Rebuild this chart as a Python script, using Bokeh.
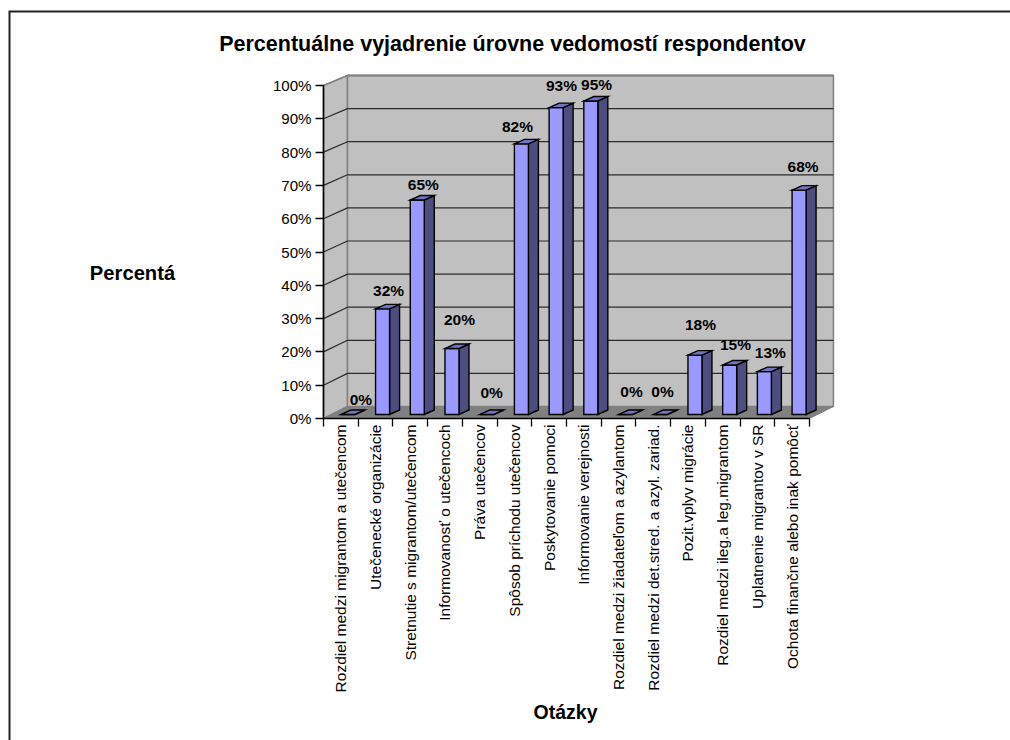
from bokeh.plotting import figure
from bokeh.models import FixedTicker, LinearAxis, Range1d
from bokeh.core.properties import value
from bokeh.embed import file_html
from bokeh.resources import INLINE

categories = ["Rozdiel medzi migrantom a utečencom", "Utečenecké organizácie",
              "Stretnutie s migrantom/utečencom", "Informovanosť o utečencoch",
              "Práva utečencov", "Spôsob príchodu utečencov", "Poskytovanie pomoci",
              "Informovanie verejnosti", "Rozdiel medzi žiadateľom a azylantom",
              "Rozdiel medzi det.stred. a azyl. zariad.", "Pozit.vplyv migrácie",
              "Rozdiel medzi ileg.a leg.migrantom", "Uplatnenie migrantov v SR",
              "Ochota finančne alebo inak pomôcť"]
percent = [0, 32, 65, 20, 0, 82, 93, 95, 0, 0, 18, 15, 13, 68]
y_ticks = [0, 10, 20, 30, 40, 50, 60, 70, 80, 90, 100]
label_dx = [20, 13, 13, 14.5, 12, 3, 12.4, 12.7, 13, 9.3, 12.5, 12.8, 13, 11]
label_dy = [19, 21, 17.6, 32, 26, 19, 23.6, 17.7, 27, 27, 34, 24, 23, 26]

FONT = "Liberation Sans"
PX_X = 34.71
PX_Y = 3.33
n = len(categories)
L, B = 323, 418
W, H = 1010, 740

def xd(px):
    return (px - L) / PX_X
def yd(px):
    return (B - px) / PX_Y

p = figure(width=W, height=H, output_backend="svg", toolbar_location=None,
           x_range=Range1d(xd(0), xd(W)), y_range=Range1d(yd(H), yd(0)),
           x_axis_type=None, y_axis_type=None,
           min_border_left=0, min_border_right=0, min_border_top=0, min_border_bottom=0)
p.outline_line_color = None
p.grid.visible = False
p.background_fill_color = "white"

dx = 24 / PX_X
dy0 = 12 / PX_Y
dy1 = 10 / PX_Y

# outer frame lines
p.line([xd(W), xd(9), xd(9)], [yd(11), yd(11), yd(H)], line_color="#222222", line_width=2, line_join="miter")

# walls
p.patch([0, dx, dx, 0], [0, dy0, 100 + dy1, 100], fill_color="#C0C0C0", line_color="#808080", line_width=1.5)
p.patch([dx, n + dx, n + dx, dx], [dy0, dy0, 100 + dy1, 100 + dy1], fill_color="#C0C0C0", line_color="#808080", line_width=1.5)
p.patch([0, n, n + dx, dx], [0, 0, dy0, dy0], fill_color="#808080", line_color="#808080", line_width=1)

# gridlines
for t in y_ticks[1:-1]:
    yb = t + dy0 + (dy1 - dy0) * t / 100
    p.line([0, dx, n + dx], [t, yb, yb], line_color="#2b2b2b", line_width=1.2)
p.line([dx, n + dx], [100 + dy1, 100 + dy1], line_color="#808080", line_width=2)
p.line([0, dx], [100, 100 + dy1], line_color="#808080", line_width=1.2)

# bars
bw = 14 / PX_X
sx = 10 / PX_X
sy = 4.5 / PX_Y
by = 4 / PX_Y
f = 3.3 / PX_Y
x0 = [i + 0.5 for i in range(n)]
top = [by + v * f for v in percent]
front_x = [[a, a + bw, a + bw, a] for a in x0]
front_y = [[by, by, t, t] for t in top]
side_x = [[a + bw, a + bw + sx, a + bw + sx, a + bw] for a in x0]
side_y = [[by, by + sy, t + sy, t] for t in top]
cap_x = [[a, a + bw, a + bw + sx, a + sx] for a in x0]
cap_y = [[t, t, t + sy, t + sy] for t in top]
edge = dict(line_color="black", line_width=1.4, line_join="miter")
p.patches(side_x, side_y, fill_color="#4D4D80", **edge)
p.patches(front_x, front_y, fill_color="#9999FF", **edge)
p.patches(cap_x, cap_y, fill_color="#7373BF", **edge)

# value labels
p.text([i + 0.5 for i in range(n)], percent, text=[f"{v}%" for v in percent],
       x_offset=label_dx, y_offset=[-d for d in label_dy],
       text_font=value(FONT), text_font_size="15.5px", text_font_style="bold",
       text_align="center", text_baseline="middle", text_color="black")

# axes
ya = LinearAxis(ticker=FixedTicker(ticks=y_ticks), bounds=(0, 100), fixed_location=0)
ya.major_label_overrides = {t: f"{t}%" for t in y_ticks}
ya.major_label_text_font = FONT
ya.major_label_text_font_size = "15.1px"
ya.major_label_text_color = "black"
ya.major_label_standoff = 4
ya.major_tick_in = 0
ya.major_tick_out = 8
ya.major_tick_line_color = "black"
ya.major_tick_line_width = 1.3
ya.minor_tick_line_color = None
ya.axis_line_color = "black"
ya.axis_line_width = 1.6
p.add_layout(ya, "left")

xa = LinearAxis(ticker=FixedTicker(ticks=[i + 0.5 for i in range(n)], minor_ticks=list(range(n + 1))),
                bounds=(0, n), fixed_location=0)
xa.major_label_overrides = {i + 0.5: c for i, c in enumerate(categories)}
xa.major_label_orientation = 3.14159265 / 2
xa.major_label_text_font = FONT
xa.major_label_text_font_size = "15.5px"
xa.major_label_text_color = "black"
xa.major_label_standoff = -2
xa.major_tick_in = 0
xa.major_tick_out = 0
xa.minor_tick_in = 0
xa.minor_tick_out = 8
xa.minor_tick_line_color = "black"
xa.minor_tick_line_width = 1.3
xa.axis_line_color = "black"
xa.axis_line_width = 1.6
p.add_layout(xa, "below")

# titles
def txt(s, cx, cy, size):
    p.text([xd(cx)], [yd(cy)], text=[s], text_font=value(FONT), text_font_size=size,
           text_font_style="bold", text_align="center", text_baseline="middle", text_color="black")

txt("Percentuálne vyjadrenie úrovne vedomostí respondentov", 512, 43, "21.5px")
txt("Percentá", 132, 272, "20.2px")
txt("Otázky", 565, 711, "19.5px")

open("out.html", "w").write(file_html(p, INLINE))
